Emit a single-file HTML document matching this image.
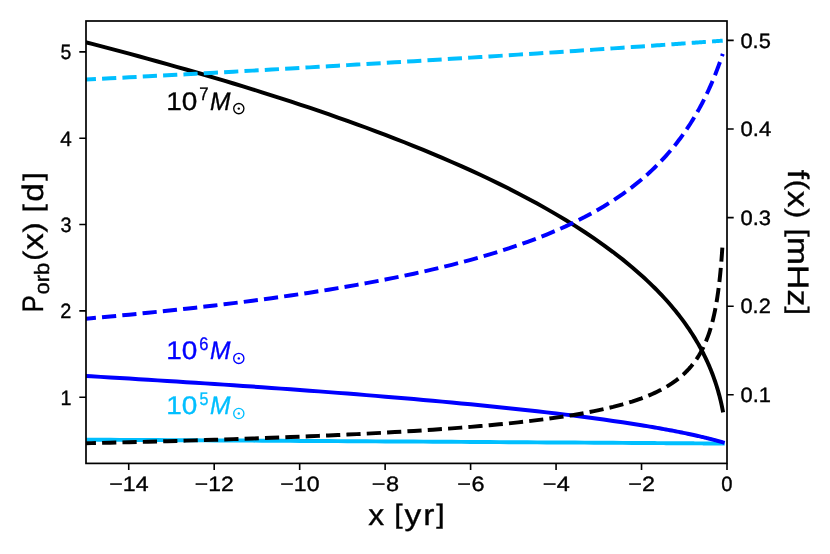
<!DOCTYPE html>
<html><head><meta charset="utf-8"><title>Orbital period and GW frequency evolution</title>
<style>html,body{margin:0;padding:0;background:#fff}svg{display:block}text{font-family:"Liberation Sans",sans-serif}</style></head>
<body>
<svg width="830" height="554" viewBox="0 0 830 554">
<rect width="830" height="554" fill="#fff"/>
<defs><clipPath id="ax"><rect x="86.0" y="21.0" width="641.0" height="442.4"/></clipPath></defs>
<g clip-path="url(#ax)" fill="none" stroke-linejoin="round">
<path d="M81.73,439.65 L91.21,439.71 L100.70,439.76 L110.19,439.82 L119.68,439.87 L129.17,439.92 L138.66,439.98 L148.14,440.03 L157.63,440.08 L167.12,440.14 L176.61,440.19 L186.10,440.25 L195.59,440.30 L205.07,440.36 L214.56,440.41 L224.05,440.47 L233.54,440.52 L243.03,440.58 L252.52,440.63 L262.00,440.69 L271.49,440.74 L280.98,440.80 L290.47,440.85 L299.96,440.91 L309.44,440.97 L318.93,441.02 L328.42,441.08 L337.91,441.13 L347.40,441.19 L356.89,441.25 L366.37,441.30 L375.86,441.36 L385.35,441.42 L394.84,441.47 L404.33,441.53 L413.82,441.59 L423.30,441.65 L432.79,441.70 L442.28,441.76 L451.77,441.82 L461.26,441.88 L470.74,441.94 L480.23,441.99 L489.72,442.05 L499.21,442.11 L508.70,442.17 L518.19,442.23 L527.67,442.29 L537.16,442.35 L546.65,442.41 L556.14,442.47 L565.63,442.52 L575.12,442.58 L584.60,442.64 L594.09,442.70 L603.58,442.76 L613.07,442.82 L622.56,442.88 L632.05,442.95 L641.53,443.01 L644.36,443.02 L647.10,443.04 L649.74,443.06 L652.30,443.08 L654.77,443.09 L657.16,443.11 L659.47,443.12 L661.71,443.14 L663.87,443.15 L665.96,443.16 L667.98,443.18 L669.93,443.19 L671.82,443.20 L673.65,443.21 L675.42,443.22 L677.12,443.24 L678.77,443.25 L680.37,443.26 L681.91,443.27 L683.41,443.28 L684.85,443.29 L686.24,443.29 L687.59,443.30 L688.90,443.31 L690.16,443.32 L691.38,443.33 L692.56,443.34 L693.70,443.34 L694.80,443.35 L695.87,443.36 L696.90,443.36 L697.89,443.37 L698.86,443.38 L699.79,443.38 L700.69,443.39 L701.56,443.39 L702.40,443.40 L703.22,443.40 L704.00,443.41 L704.76,443.41 L705.50,443.42 L706.21,443.42 L706.90,443.43 L707.56,443.43 L708.21,443.44 L708.83,443.44 L709.43,443.45 L710.01,443.45 L710.58,443.45 L711.12,443.46 L711.64,443.46 L712.15,443.46 L712.64,443.47 L713.12,443.47 L713.58,443.47 L714.02,443.48 L714.45,443.48 L714.87,443.48 L715.27,443.48 L715.66,443.49 L716.03,443.49 L716.40,443.49 L716.75,443.49 L717.09,443.50 L717.41,443.50 L717.73,443.50 L718.04,443.50 L718.34,443.50 L718.62,443.51 L718.90,443.51 L719.17,443.51 L719.43,443.51 L719.68,443.51 L719.92,443.51 L720.15,443.52 L720.38,443.52 L720.60,443.52 L720.81,443.52 L721.02,443.52 L721.21,443.52 L721.41,443.52 L721.59,443.52 L721.77,443.53 L721.94,443.53 L722.11,443.53 L722.27,443.53 L722.43,443.53 L722.58,443.53 L722.73,443.53" stroke="#00bfff" stroke-width="3.95" stroke-linecap="square"/>
<path d="M81.73,375.77 L91.21,376.33 L100.70,376.89 L110.19,377.45 L119.68,378.02 L129.17,378.59 L138.66,379.17 L148.14,379.76 L157.63,380.35 L167.12,380.95 L176.61,381.55 L186.10,382.16 L195.59,382.77 L205.07,383.39 L214.56,384.02 L224.05,384.65 L233.54,385.29 L243.03,385.94 L252.52,386.59 L262.00,387.26 L271.49,387.93 L280.98,388.60 L290.47,389.29 L299.96,389.98 L309.44,390.69 L318.93,391.40 L328.42,392.12 L337.91,392.85 L347.40,393.59 L356.89,394.34 L366.37,395.11 L375.86,395.88 L385.35,396.66 L394.84,397.46 L404.33,398.27 L413.82,399.09 L423.30,399.93 L432.79,400.78 L442.28,401.64 L451.77,402.52 L461.26,403.42 L470.74,404.33 L480.23,405.26 L489.72,406.21 L499.21,407.18 L508.70,408.17 L518.19,409.19 L527.67,410.22 L537.16,411.28 L546.65,412.37 L556.14,413.49 L565.63,414.64 L575.12,415.82 L584.60,417.03 L594.09,418.29 L603.58,419.58 L613.07,420.92 L622.56,422.31 L632.05,423.76 L641.53,425.26 L644.36,425.72 L647.10,426.17 L649.74,426.62 L652.30,427.05 L654.77,427.48 L657.16,427.89 L659.47,428.30 L661.71,428.70 L663.87,429.09 L665.96,429.47 L667.98,429.84 L669.93,430.21 L671.82,430.56 L673.65,430.91 L675.42,431.26 L677.12,431.59 L678.77,431.91 L680.37,432.23 L681.91,432.54 L683.41,432.85 L684.85,433.14 L686.24,433.43 L687.59,433.72 L688.90,433.99 L690.16,434.26 L691.38,434.52 L692.56,434.78 L693.70,435.03 L694.80,435.27 L695.87,435.51 L696.90,435.74 L697.89,435.97 L698.86,436.19 L699.79,436.40 L700.69,436.61 L701.56,436.81 L702.40,437.01 L703.22,437.20 L704.00,437.39 L704.76,437.58 L705.50,437.75 L706.21,437.93 L706.90,438.09 L707.56,438.26 L708.21,438.42 L708.83,438.57 L709.43,438.72 L710.01,438.87 L710.58,439.01 L711.12,439.15 L711.64,439.28 L712.15,439.42 L712.64,439.54 L713.12,439.67 L713.58,439.79 L714.02,439.90 L714.45,440.01 L714.87,440.12 L715.27,440.23 L715.66,440.33 L716.03,440.44 L716.40,440.53 L716.75,440.63 L717.09,440.72 L717.41,440.81 L717.73,440.89 L718.04,440.98 L718.34,441.06 L718.62,441.14 L718.90,441.21 L719.17,441.29 L719.43,441.36 L719.68,441.43 L719.92,441.50 L720.15,441.56 L720.38,441.63 L720.60,441.69 L720.81,441.75 L721.02,441.81 L721.21,441.86 L721.41,441.92 L721.59,441.97 L721.77,442.02 L721.94,442.07 L722.11,442.12 L722.27,442.16 L722.43,442.21 L722.58,442.25 L722.73,442.30" stroke="#0000ff" stroke-width="3.95" stroke-linecap="square"/>
<path d="M81.73,41.25 L91.21,43.70 L100.70,46.16 L110.19,48.66 L119.68,51.17 L129.17,53.71 L138.66,56.28 L148.14,58.87 L157.63,61.49 L167.12,64.14 L176.61,66.81 L186.10,69.52 L195.59,72.25 L205.07,75.01 L214.56,77.81 L224.05,80.64 L233.54,83.50 L243.03,86.39 L252.52,89.32 L262.00,92.29 L271.49,95.30 L280.98,98.34 L290.47,101.43 L299.96,104.56 L309.44,107.73 L318.93,110.95 L328.42,114.21 L337.91,117.52 L347.40,120.89 L356.89,124.30 L366.37,127.77 L375.86,131.30 L385.35,134.89 L394.84,138.54 L404.33,142.26 L413.82,146.05 L423.30,149.90 L432.79,153.84 L442.28,157.85 L451.77,161.95 L461.26,166.13 L470.74,170.42 L480.23,174.80 L489.72,179.28 L499.21,183.88 L508.70,188.60 L518.19,193.45 L527.67,198.44 L537.16,203.58 L546.65,208.88 L556.14,214.36 L565.63,220.03 L575.12,225.91 L584.60,232.02 L594.09,238.39 L603.58,245.05 L613.07,252.04 L622.56,259.40 L632.05,267.18 L641.53,275.46 L644.36,278.03 L647.10,280.58 L649.74,283.09 L652.30,285.57 L654.77,288.02 L657.16,290.43 L659.47,292.82 L661.71,295.17 L663.87,297.50 L665.96,299.79 L667.98,302.06 L669.93,304.29 L671.82,306.50 L673.65,308.68 L675.42,310.83 L677.12,312.95 L678.77,315.04 L680.37,317.11 L681.91,319.15 L683.41,321.16 L684.85,323.15 L686.24,325.11 L687.59,327.05 L688.90,328.96 L690.16,330.85 L691.38,332.71 L692.56,334.54 L693.70,336.36 L694.80,338.14 L695.87,339.91 L696.90,341.65 L697.89,343.37 L698.86,345.06 L699.79,346.74 L700.69,348.39 L701.56,350.02 L702.40,351.62 L703.22,353.21 L704.00,354.77 L704.76,356.31 L705.50,357.84 L706.21,359.34 L706.90,360.82 L707.56,362.28 L708.21,363.72 L708.83,365.14 L709.43,366.54 L710.01,367.93 L710.58,369.29 L711.12,370.64 L711.64,371.96 L712.15,373.27 L712.64,374.56 L713.12,375.83 L713.58,377.09 L714.02,378.32 L714.45,379.54 L714.87,380.74 L715.27,381.93 L715.66,383.09 L716.03,384.24 L716.40,385.38 L716.75,386.50 L717.09,387.60 L717.41,388.68 L717.73,389.75 L718.04,390.81 L718.34,391.85 L718.62,392.87 L718.90,393.88 L719.17,394.87 L719.43,395.85 L719.68,396.81 L719.92,397.76 L720.15,398.69 L720.38,399.61 L720.60,400.52 L720.81,401.41 L721.02,402.29 L721.21,403.15 L721.41,404.00 L721.59,404.84 L721.77,405.66 L721.94,406.47 L722.11,407.27 L722.27,408.05 L722.43,408.83 L722.58,409.58 L722.73,410.33" stroke="#000000" stroke-width="3.95" stroke-linecap="square"/>
<path d="M81.73,79.79 L91.21,79.30 L100.70,78.81 L110.19,78.31 L119.68,77.81 L129.17,77.31 L138.66,76.81 L148.14,76.31 L157.63,75.80 L167.12,75.29 L176.61,74.78 L186.10,74.26 L195.59,73.75 L205.07,73.23 L214.56,72.71 L224.05,72.19 L233.54,71.66 L243.03,71.13 L252.52,70.60 L262.00,70.07 L271.49,69.53 L280.98,68.99 L290.47,68.45 L299.96,67.91 L309.44,67.36 L318.93,66.81 L328.42,66.26 L337.91,65.71 L347.40,65.15 L356.89,64.59 L366.37,64.03 L375.86,63.46 L385.35,62.90 L394.84,62.33 L404.33,61.75 L413.82,61.18 L423.30,60.60 L432.79,60.01 L442.28,59.43 L451.77,58.84 L461.26,58.25 L470.74,57.65 L480.23,57.06 L489.72,56.46 L499.21,55.85 L508.70,55.25 L518.19,54.64 L527.67,54.02 L537.16,53.41 L546.65,52.79 L556.14,52.16 L565.63,51.54 L575.12,50.91 L584.60,50.28 L594.09,49.64 L603.58,49.00 L613.07,48.36 L622.56,47.71 L632.05,47.06 L641.53,46.41 L644.36,46.21 L647.10,46.02 L649.74,45.84 L652.30,45.66 L654.77,45.49 L657.16,45.32 L659.47,45.16 L661.71,45.00 L663.87,44.85 L665.96,44.71 L667.98,44.56 L669.93,44.43 L671.82,44.29 L673.65,44.17 L675.42,44.04 L677.12,43.92 L678.77,43.80 L680.37,43.69 L681.91,43.58 L683.41,43.48 L684.85,43.38 L686.24,43.28 L687.59,43.18 L688.90,43.09 L690.16,43.00 L691.38,42.91 L692.56,42.83 L693.70,42.75 L694.80,42.67 L695.87,42.59 L696.90,42.52 L697.89,42.45 L698.86,42.38 L699.79,42.31 L700.69,42.25 L701.56,42.18 L702.40,42.12 L703.22,42.07 L704.00,42.01 L704.76,41.96 L705.50,41.90 L706.21,41.85 L706.90,41.80 L707.56,41.75 L708.21,41.71 L708.83,41.66 L709.43,41.62 L710.01,41.58 L710.58,41.54 L711.12,41.50 L711.64,41.46 L712.15,41.42 L712.64,41.39 L713.12,41.35 L713.58,41.32 L714.02,41.29 L714.45,41.26 L714.87,41.23 L715.27,41.20 L715.66,41.17 L716.03,41.14 L716.40,41.12 L716.75,41.09 L717.09,41.07 L717.41,41.04 L717.73,41.02 L718.04,41.00 L718.34,40.98 L718.62,40.96 L718.90,40.94 L719.17,40.92 L719.43,40.90 L719.68,40.88 L719.92,40.86 L720.15,40.85 L720.38,40.83 L720.60,40.81 L720.81,40.80 L721.02,40.78 L721.21,40.77 L721.41,40.76 L721.59,40.74 L721.77,40.73 L721.94,40.72 L722.11,40.70 L722.27,40.69 L722.43,40.68 L722.58,40.67 L722.73,40.66" stroke="#00bfff" stroke-width="3.95" stroke-dasharray="14.22 6.15" stroke-dashoffset="0"/>
<path d="M81.73,319.08 L91.21,318.23 L100.70,317.36 L110.19,316.48 L119.68,315.58 L129.17,314.66 L138.66,313.73 L148.14,312.77 L157.63,311.79 L167.12,310.79 L176.61,309.78 L186.10,308.73 L195.59,307.67 L205.07,306.58 L214.56,305.47 L224.05,304.33 L233.54,303.16 L243.03,301.96 L252.52,300.74 L262.00,299.48 L271.49,298.19 L280.98,296.87 L290.47,295.51 L299.96,294.12 L309.44,292.68 L318.93,291.21 L328.42,289.69 L337.91,288.13 L347.40,286.52 L356.89,284.86 L366.37,283.15 L375.86,281.39 L385.35,279.56 L394.84,277.67 L404.33,275.72 L413.82,273.70 L423.30,271.60 L432.79,269.43 L442.28,267.17 L451.77,264.82 L461.26,262.37 L470.74,259.82 L480.23,257.16 L489.72,254.38 L499.21,251.47 L508.70,248.42 L518.19,245.22 L527.67,241.85 L537.16,238.30 L546.65,234.55 L556.14,230.58 L565.63,226.37 L575.12,221.89 L584.60,217.11 L594.09,212.00 L603.58,206.50 L613.07,200.57 L622.56,194.15 L632.05,187.16 L641.53,179.50 L644.36,177.07 L647.10,174.66 L649.74,172.26 L652.30,169.87 L654.77,167.49 L657.16,165.13 L659.47,162.78 L661.71,160.45 L663.87,158.14 L665.96,155.84 L667.98,153.56 L669.93,151.30 L671.82,149.07 L673.65,146.85 L675.42,144.65 L677.12,142.48 L678.77,140.32 L680.37,138.19 L681.91,136.09 L683.41,134.01 L684.85,131.95 L686.24,129.92 L687.59,127.91 L688.90,125.93 L690.16,123.98 L691.38,122.05 L692.56,120.16 L693.70,118.28 L694.80,116.44 L695.87,114.63 L696.90,112.84 L697.89,111.08 L698.86,109.35 L699.79,107.65 L700.69,105.98 L701.56,104.33 L702.40,102.72 L703.22,101.14 L704.00,99.58 L704.76,98.06 L705.50,96.56 L706.21,95.09 L706.90,93.65 L707.56,92.24 L708.21,90.86 L708.83,89.51 L709.43,88.18 L710.01,86.89 L710.58,85.62 L711.12,84.38 L711.64,83.17 L712.15,81.98 L712.64,80.82 L713.12,79.69 L713.58,78.58 L714.02,77.50 L714.45,76.45 L714.87,75.42 L715.27,74.42 L715.66,73.44 L716.03,72.48 L716.40,71.55 L716.75,70.64 L717.09,69.76 L717.41,68.89 L717.73,68.05 L718.04,67.23 L718.34,66.44 L718.62,65.66 L718.90,64.91 L719.17,64.17 L719.43,63.46 L719.68,62.76 L719.92,62.08 L720.15,61.43 L720.38,60.78 L720.60,60.16 L720.81,59.56 L721.02,58.97 L721.21,58.40 L721.41,57.84 L721.59,57.30 L721.77,56.78 L721.94,56.27 L722.11,55.78 L722.27,55.30 L722.43,54.83 L722.58,54.38 L722.73,53.94" stroke="#0000ff" stroke-width="3.95" stroke-dasharray="14.22 6.15" stroke-dashoffset="0"/>
<path d="M81.73,443.38 L91.21,443.15 L100.70,442.93 L110.19,442.69 L119.68,442.46 L129.17,442.22 L138.66,441.97 L148.14,441.71 L157.63,441.46 L167.12,441.19 L176.61,440.92 L186.10,440.64 L195.59,440.36 L205.07,440.07 L214.56,439.77 L224.05,439.46 L233.54,439.15 L243.03,438.83 L252.52,438.49 L262.00,438.15 L271.49,437.80 L280.98,437.44 L290.47,437.07 L299.96,436.69 L309.44,436.29 L318.93,435.89 L328.42,435.47 L337.91,435.03 L347.40,434.58 L356.89,434.12 L366.37,433.64 L375.86,433.14 L385.35,432.62 L394.84,432.09 L404.33,431.53 L413.82,430.94 L423.30,430.34 L432.79,429.70 L442.28,429.04 L451.77,428.35 L461.26,427.62 L470.74,426.86 L480.23,426.06 L489.72,425.21 L499.21,424.32 L508.70,423.37 L518.19,422.37 L527.67,421.30 L537.16,420.16 L546.65,418.94 L556.14,417.63 L565.63,416.21 L575.12,414.68 L584.60,413.01 L594.09,411.18 L603.58,409.16 L613.07,406.92 L622.56,404.41 L632.05,401.57 L641.53,398.31 L644.36,397.24 L647.10,396.16 L649.74,395.07 L652.30,393.96 L654.77,392.84 L657.16,391.71 L659.47,390.56 L661.71,389.40 L663.87,388.23 L665.96,387.04 L667.98,385.84 L669.93,384.62 L671.82,383.39 L673.65,382.14 L675.42,380.88 L677.12,379.61 L678.77,378.31 L680.37,377.01 L681.91,375.69 L683.41,374.35 L684.85,373.00 L686.24,371.63 L687.59,370.25 L688.90,368.85 L690.16,367.44 L691.38,366.01 L692.56,364.56 L693.70,363.10 L694.80,361.62 L695.87,360.12 L696.90,358.61 L697.89,357.08 L698.86,355.53 L699.79,353.96 L700.69,352.38 L701.56,350.79 L702.40,349.17 L703.22,347.54 L704.00,345.89 L704.76,344.22 L705.50,342.53 L706.21,340.83 L706.90,339.11 L707.56,337.37 L708.21,335.61 L708.83,333.84 L709.43,332.04 L710.01,330.23 L710.58,328.41 L711.12,326.56 L711.64,324.69 L712.15,322.81 L712.64,320.91 L713.12,318.99 L713.58,317.05 L714.02,315.10 L714.45,313.13 L714.87,311.14 L715.27,309.13 L715.66,307.10 L716.03,305.06 L716.40,303.00 L716.75,300.92 L717.09,298.82 L717.41,296.71 L717.73,294.58 L718.04,292.43 L718.34,290.27 L718.62,288.09 L718.90,285.90 L719.17,283.68 L719.43,281.46 L719.68,279.21 L719.92,276.95 L720.15,274.68 L720.38,272.39 L720.60,270.09 L720.81,267.77 L721.02,265.44 L721.21,263.10 L721.41,260.75 L721.59,258.38 L721.77,256.00 L721.94,253.61 L722.11,251.20 L722.27,248.79 L722.43,246.37 L722.58,243.94 L722.73,241.50" stroke="#000000" stroke-width="3.95" stroke-dasharray="14.22 6.15" stroke-dashoffset="0"/>
</g>
<rect x="86.0" y="21.0" width="641.0" height="442.4" fill="none" stroke="#000" stroke-width="1.7"/>
<path d="M128.73,463.4 v6.7 M214.20,463.4 v6.7 M299.67,463.4 v6.7 M385.13,463.4 v6.7 M470.60,463.4 v6.7 M556.07,463.4 v6.7 M641.53,463.4 v6.7 M727.00,463.4 v6.7 M86.0,397.20 h-6.7 M86.0,310.88 h-6.7 M86.0,224.55 h-6.7 M86.0,138.22 h-6.7 M86.0,51.90 h-6.7 M727.0,394.80 h6.7 M727.0,306.19 h6.7 M727.0,217.58 h6.7 M727.0,128.96 h6.7 M727.0,40.35 h6.7" stroke="#000" stroke-width="1.6" fill="none"/>
<g font-family="'Liberation Sans', sans-serif" style="font-kerning:none;will-change:opacity;opacity:0.999" text-rendering="geometricPrecision">
<text transform="translate(109.36,491.00) scale(1.1139,1)" font-size="20.77" fill="#000" stroke="#000" stroke-width="0.35">−14</text>
<text transform="translate(194.84,491.00) scale(1.1031,1)" font-size="20.77" fill="#000" stroke="#000" stroke-width="0.35">−12</text>
<text transform="translate(280.29,491.00) scale(1.1147,1)" font-size="20.77" fill="#000" stroke="#000" stroke-width="0.35">−10</text>
<text transform="translate(371.85,491.00) scale(1.1300,1)" font-size="20.77" fill="#000" stroke="#000" stroke-width="0.35" letter-spacing="0.34">−8</text>
<text transform="translate(457.32,491.00) scale(1.1300,1)" font-size="20.77" fill="#000" stroke="#000" stroke-width="0.35" letter-spacing="0.44">−6</text>
<text transform="translate(542.79,491.00) scale(1.1300,1)" font-size="20.77" fill="#000" stroke="#000" stroke-width="0.35" letter-spacing="0.26">−4</text>
<text transform="translate(628.26,491.00) scale(1.1271,1)" font-size="20.77" fill="#000" stroke="#000" stroke-width="0.35">−2</text>
<text transform="translate(721.36,491.00) scale(0.9749,1)" font-size="20.77" fill="#000" stroke="#000" stroke-width="0.35">0</text>
<text transform="translate(60.48,404.65) scale(0.9502,1)" font-size="20.77" fill="#000" stroke="#000" stroke-width="0.35">1</text>
<text transform="translate(60.26,318.32) scale(0.9589,1)" font-size="20.77" fill="#000" stroke="#000" stroke-width="0.35">2</text>
<text transform="translate(60.57,232.00) scale(0.9554,1)" font-size="20.77" fill="#000" stroke="#000" stroke-width="0.35">3</text>
<text transform="translate(60.31,145.67) scale(0.9950,1)" font-size="20.77" fill="#000" stroke="#000" stroke-width="0.35">4</text>
<text transform="translate(60.56,59.35) scale(0.9389,1)" font-size="20.77" fill="#000" stroke="#000" stroke-width="0.35">5</text>
<text transform="translate(740.46,402.10) scale(1.0534,1)" font-size="20.77" fill="#000" stroke="#000" stroke-width="0.35">0.1</text>
<text transform="translate(740.46,313.49) scale(1.0489,1)" font-size="20.77" fill="#000" stroke="#000" stroke-width="0.35">0.2</text>
<text transform="translate(740.45,224.88) scale(1.0584,1)" font-size="20.77" fill="#000" stroke="#000" stroke-width="0.35">0.3</text>
<text transform="translate(740.45,136.26) scale(1.0641,1)" font-size="20.77" fill="#000" stroke="#000" stroke-width="0.35">0.4</text>
<text transform="translate(740.46,47.65) scale(1.0515,1)" font-size="20.77" fill="#000" stroke="#000" stroke-width="0.35">0.5</text>
<text transform="translate(368.14,525.20) scale(1.0746,1)" font-size="29.67" fill="#000" stroke="#000" stroke-width="0.35">x</text>
<text transform="translate(394.13,525.20) scale(1.1300,1)" font-size="29.67" fill="#000" stroke="#000" stroke-width="0.35" letter-spacing="1.74"><tspan font-size="26.78" dy="-1.87">[</tspan><tspan dy="1.87">yr</tspan><tspan font-size="26.78" dy="-1.87">]</tspan></text>
<text transform="translate(43.40,312.54) rotate(-90) scale(0.8803,1)" font-size="29.67" fill="#000" stroke="#000" stroke-width="0.35">P</text>
<text transform="translate(48.90,294.42) rotate(-90) scale(1.0576,1)" font-size="20.77" fill="#000" stroke="#000" stroke-width="0.35">orb</text>
<text transform="translate(43.40,260.78) rotate(-90) scale(1.1300,1)" font-size="29.67" fill="#000" stroke="#000" stroke-width="0.35" letter-spacing="0.59"><tspan font-size="26.78" dy="-1.87">(</tspan><tspan dy="1.87">x</tspan><tspan font-size="26.78" dy="-1.87">)</tspan></text>
<text transform="translate(43.40,212.49) rotate(-90) scale(1.1300,1)" font-size="29.67" fill="#000" stroke="#000" stroke-width="0.35" letter-spacing="2.03"><tspan font-size="26.78" dy="-1.87">[</tspan><tspan dy="1.87">d</tspan><tspan font-size="26.78" dy="-1.87">]</tspan></text>
<text transform="translate(787.90,169.63) rotate(90) scale(1.1300,1)" font-size="29.67" fill="#000" stroke="#000" stroke-width="0.35" letter-spacing="0.74"><tspan dy="0.00">f</tspan><tspan font-size="26.78" dy="-1.87">(</tspan><tspan dy="1.87">x</tspan><tspan font-size="26.78" dy="-1.87">)</tspan></text>
<text transform="translate(787.90,228.41) rotate(90) scale(1.1300,1)" font-size="29.67" fill="#000" stroke="#000" stroke-width="0.35" letter-spacing="0.16"><tspan font-size="26.78" dy="-1.87">[</tspan><tspan dy="1.87">mHz</tspan><tspan font-size="26.78" dy="-1.87">]</tspan></text>
<text transform="translate(166.27,109.50) scale(1.0938,1)" font-size="25.58" fill="#000000" stroke="#000000" stroke-width="0.35">10</text>
<text transform="translate(199.34,100.10) scale(0.9129,1)" font-size="18.31" fill="#000000" stroke="#000000" stroke-width="0.35">7</text>
<text transform="translate(209.94,109.50) scale(0.9599,1)" font-size="25.58" fill="#000000" stroke="#000000" stroke-width="0.35" font-style="italic">M</text>
<circle cx="238.8" cy="108.60" r="5.1" fill="none" stroke="#000000" stroke-width="1.35"/><circle cx="238.8" cy="108.60" r="1.2" fill="#000000"/>
<text transform="translate(166.27,359.30) scale(1.0938,1)" font-size="25.58" fill="#0000ff" stroke="#0000ff" stroke-width="0.35">10</text>
<text transform="translate(199.36,349.90) scale(0.8993,1)" font-size="18.31" fill="#0000ff" stroke="#0000ff" stroke-width="0.35">6</text>
<text transform="translate(209.94,359.30) scale(0.9599,1)" font-size="25.58" fill="#0000ff" stroke="#0000ff" stroke-width="0.35" font-style="italic">M</text>
<circle cx="238.8" cy="358.40" r="5.1" fill="none" stroke="#0000ff" stroke-width="1.35"/><circle cx="238.8" cy="358.40" r="1.2" fill="#0000ff"/>
<text transform="translate(166.27,414.40) scale(1.0938,1)" font-size="25.58" fill="#00bfff" stroke="#00bfff" stroke-width="0.35">10</text>
<text transform="translate(199.56,405.00) scale(0.8753,1)" font-size="18.31" fill="#00bfff" stroke="#00bfff" stroke-width="0.35">5</text>
<text transform="translate(209.94,414.40) scale(0.9599,1)" font-size="25.58" fill="#00bfff" stroke="#00bfff" stroke-width="0.35" font-style="italic">M</text>
<circle cx="238.8" cy="413.50" r="5.1" fill="none" stroke="#00bfff" stroke-width="1.35"/><circle cx="238.8" cy="413.50" r="1.2" fill="#00bfff"/>
</g>
</svg>
</body></html>
